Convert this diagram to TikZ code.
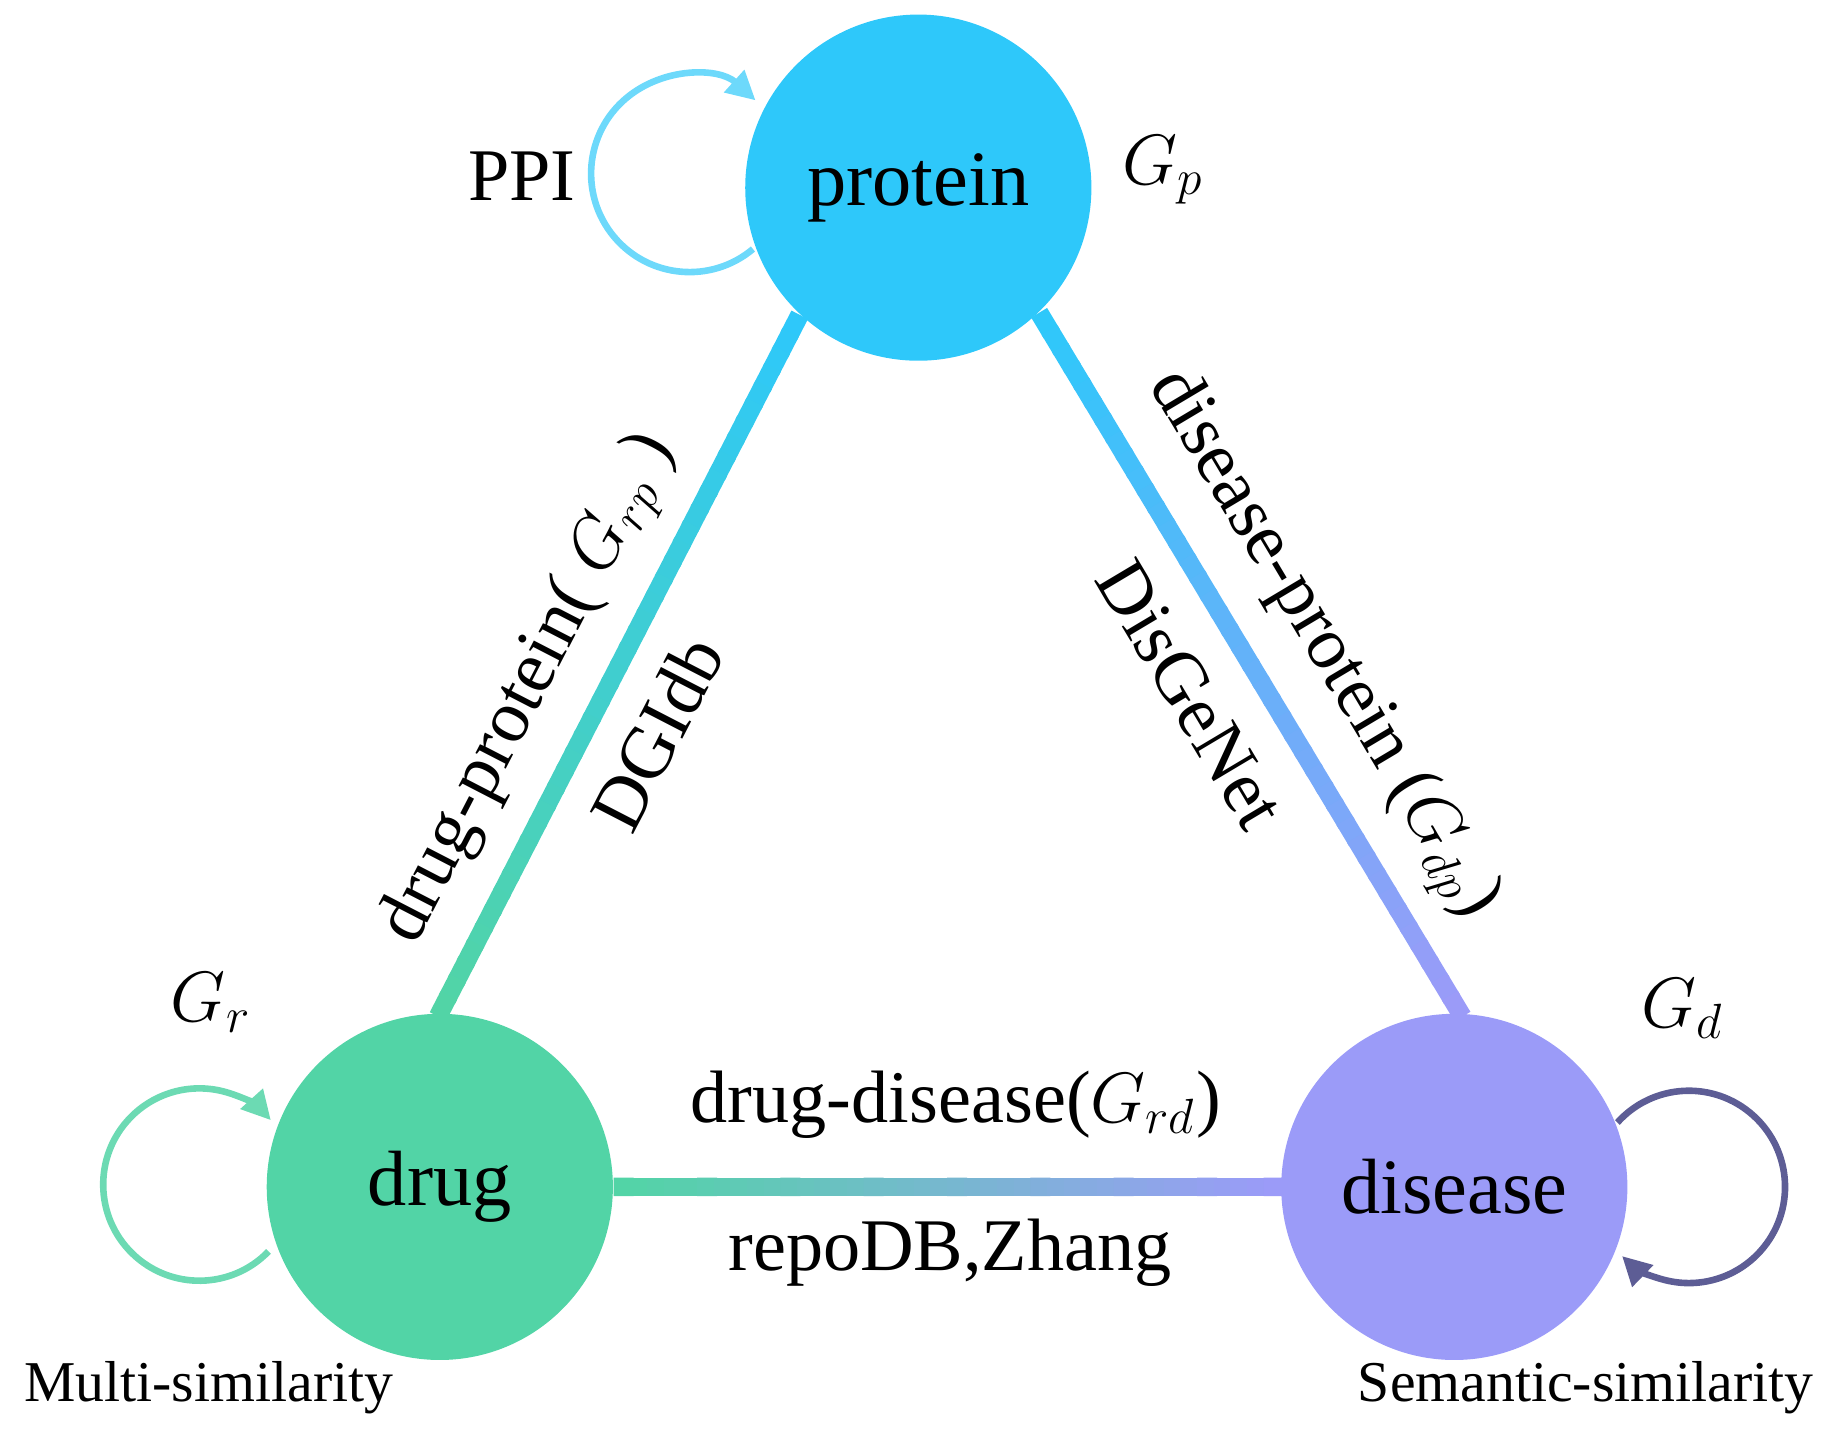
\documentclass[tikz,border=0pt]{standalone}
\usepackage{fontspec}
\setmainfont{Liberation Serif}
\usetikzlibrary{calc,arrows.meta}
\definecolor{cP}{HTML}{2EC8FA}
\definecolor{cR}{HTML}{52D4A6}
\definecolor{cD}{HTML}{9B9BF8}
\begin{document}
\begin{tikzpicture}[x=0.01cm,y=-0.01cm,
  ent/.style={circle,minimum size=2.95cm,inner sep=0pt,font=\fontsize{19}{22}\selectfont},
  lab/.style={font=\fontsize{18}{21}\selectfont},
  small/.style={font=\fontsize{14}{16}\selectfont},
  loop/.style={line width=1.6pt,-{Triangle[length=7pt,width=7pt]}}]
\useasboundingbox (0,0) rectangle (1568,1237);
\node[ent,fill=cP] (protein) at (783,160) {protein};
\node[ent,fill=cR] (drug) at (375,1012) {drug};
\node[ent,fill=cD] (disease) at (1240,1012) {disease};
% gradient edges
\foreach \i in {0,...,39}{
  \pgfmathsetmacro\a{\i/40}\pgfmathsetmacro\b{(\i+1.2)/40}\pgfmathsetmacro\c{100*\i/39}
  \draw[line width=4.5pt,color=cR!\c!cP] ($(protein.227)!\a!(drug.90)$) -- ($(protein.227)!\b!(drug.90)$);
  \draw[line width=4.5pt,color=cD!\c!cP] ($(protein.314)!\a!(disease.88)$) -- ($(protein.314)!\b!(disease.88)$);
  \draw[line width=4.5pt,color=cD!\c!cR] ($(drug.0)!\a!(disease.180)$) -- ($(drug.0)!\b!(disease.180)$);
}
% loops
\coordinate (lp) at (588,148);
\coordinate (lr) at (170,1010);
\coordinate (ld) at (1440,1012);
\draw[loop,color=cP!70!white] ($(lp)+(50:84)$) arc[start angle=50,end angle=312,radius=84];
\draw[loop,color=cR!85!white] ($(lr)+(44:82)$) arc[start angle=44,end angle=318,radius=82];
\draw[loop,color=cD!60!black] ($(ld)+(222:82)$) arc[start angle=222,end angle=494,radius=82];
% labels
\node[lab] (ppi) at (445,150) {PPI};
\node[lab] (gp) at (992,145) {$G_p$};
\node[lab] (gr) at (180,855) {$G_r$};
\node[lab] (gd) at (1435,860) {$G_d$};
\node[small] (ms) at (178,1183) {Multi-similarity};
\node[small] (ss) at (1352,1183) {Semantic-similarity};
\node[lab,rotate=62.7] (l1) at (452,588) {drug-protein( $G_{rp}$ )};
\node[lab,rotate=62.7] (l2) at (560,625) {DGIdb};
\node[lab,rotate=-59.2] (l3) at (1127,550) {disease-protein ($G_{dp}$)};
\node[lab,rotate=-59.2] (l4) at (1015,592) {DisGeNet};
\node[lab] (l5) at (815,942) {drug-disease($G_{rd}$)};
\node[lab] (l6) at (810,1068) {repoDB,Zhang};
\end{tikzpicture}
\end{document}
